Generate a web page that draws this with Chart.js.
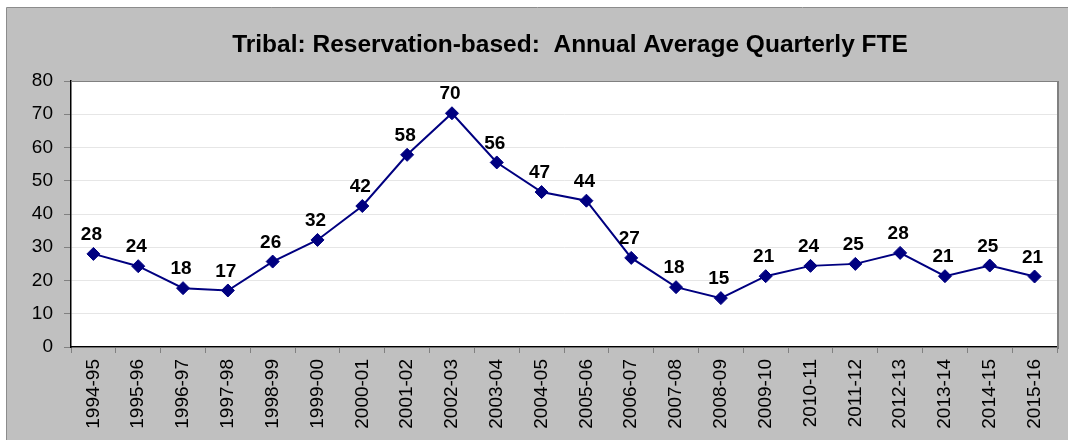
<!DOCTYPE html>
<html>
<head>
<meta charset="utf-8">
<script src="https://cdn.jsdelivr.net/npm/chart.js@4.4.1/dist/chart.umd.min.js"></script>
<style>
  html, body { margin: 0; padding: 0; background: #fff; }
  #wrap { width: 1068px; height: 440px; }
</style>
</head>
<body>
<div id="wrap"><canvas id="chart" width="1068" height="440"></canvas></div>
<script>
// Data
const CATEGORIES = [
  "1994-95", "1995-96", "1996-97", "1997-98", "1998-99", "1999-00",
  "2000-01", "2001-02", "2002-03", "2003-04", "2004-05", "2005-06",
  "2006-07", "2007-08", "2008-09", "2009-10", "2010-11", "2011-12",
  "2012-13", "2013-14", "2014-15", "2015-16",
];
const FTE_VALUES = [
  28.0, 24.3, 17.7, 17.0, 25.7, 32.2, 42.4, 57.8, 70.3, 55.5, 46.6,
  44.0, 26.8, 18.0, 14.7, 21.3, 24.4, 25.0, 28.3, 21.3, 24.5, 21.2,
];
const Y_MIN = 0;
const Y_MAX = 80;
const Y_STEP = 10;
const TITLE = "Tribal: Reservation-based:  Annual Average Quarterly FTE";

const FONT = "'Liberation Sans', Arial, sans-serif";
const NAVY = "#000080";

// Background, title and plot frame
const framePlugin = {
  id: "frame",
  beforeDraw(chart) {
    const { ctx, chartArea } = chart;
    ctx.save();
    ctx.fillStyle = "#ffffff";
    ctx.fillRect(0, 0, chart.width, chart.height);
    ctx.fillStyle = "#c0c0c0";
    ctx.fillRect(7, 8, chart.width - 7, chart.height - 8);
    ctx.strokeStyle = "#8c8c8c";
    ctx.lineWidth = 1;
    ctx.beginPath();
    ctx.moveTo(6.5, chart.height);
    ctx.lineTo(6.5, 7.5);
    ctx.lineTo(chart.width, 7.5);
    ctx.stroke();
    ctx.fillStyle = "#ffffff";
    ctx.fillRect(chartArea.left, chartArea.top, chartArea.width, chartArea.height);
    ctx.fillStyle = "#000000";
    ctx.font = "bold 24.5px " + FONT;
    ctx.textAlign = "center";
    ctx.textBaseline = "alphabetic";
    ctx.fillText(TITLE, 570, 52);
    ctx.restore();
  },
  afterDraw(chart) {
    const { ctx, chartArea } = chart;
    ctx.save();
    ctx.strokeStyle = "#808080";
    ctx.lineWidth = 1;
    ctx.beginPath();
    ctx.moveTo(chartArea.left, chartArea.top + 0.5);
    ctx.lineTo(chartArea.right, chartArea.top + 0.5);
    ctx.stroke();
    ctx.lineWidth = 2;
    ctx.beginPath();
    ctx.moveTo(chartArea.right + 1, chartArea.top);
    ctx.lineTo(chartArea.right + 1, chartArea.bottom + 2);
    ctx.stroke();
    ctx.restore();
  },
};

// Value labels above the points
const valueLabels = {
  id: "valueLabels",
  afterDatasetsDraw(chart) {
    const { ctx } = chart;
    const meta = chart.getDatasetMeta(0);
    ctx.save();
    ctx.fillStyle = "#000000";
    ctx.font = "bold 19px " + FONT;
    ctx.textAlign = "center";
    ctx.textBaseline = "middle";
    meta.data.forEach((pt, i) => {
      ctx.fillText(String(Math.round(FTE_VALUES[i])), pt.x - 2, pt.y - 19);
    });
    ctx.restore();
  },
};

new Chart(document.getElementById("chart"), {
  type: "line",
  data: {
    labels: CATEGORIES,
    datasets: [
      {
        data: FTE_VALUES,
        borderColor: NAVY,
        backgroundColor: NAVY,
        borderWidth: 2,
        pointStyle: "rectRot",
        pointRadius: 6.5,
        pointBorderWidth: 1,
        pointBackgroundColor: NAVY,
        pointBorderColor: NAVY,
        tension: 0,
        fill: false,
      },
    ],
  },
  options: {
    responsive: false,
    animation: false,
    layout: { padding: { top: 81, right: 11, left: 0, bottom: 0 } },
    plugins: {
      legend: { display: false },
      title: { display: false },
      tooltip: { enabled: false },
    },
    scales: {
      x: {
        offset: true,
        afterFit(scale) {
          scale.height = 93;
        },
        grid: {
          offset: true,
          drawOnChartArea: false,
          drawTicks: true,
          tickLength: 6,
          tickColor: "#808080",
        },
        border: { display: true, color: "#000000", width: 1.5 },
        ticks: {
          color: "#000000",
          font: { family: FONT, size: 19 },
          minRotation: 90,
          maxRotation: 90,
          padding: 6,
          autoSkip: false,
        },
      },
      y: {
        min: Y_MIN,
        max: Y_MAX,
        afterFit(scale) {
          scale.width = 71;
        },
        grid: {
          color: (c) => (c.tick && c.tick.value === Y_MAX ? "#808080" : "#e6e6e6"),
          lineWidth: 1,
          tickLength: 7,
          tickColor: "#808080",
        },
        border: { display: true, color: "#000000", width: 1.5 },
        ticks: {
          stepSize: Y_STEP,
          color: "#000000",
          font: { family: FONT, size: 19 },
          padding: 11,
        },
      },
    },
  },
  plugins: [framePlugin, valueLabels],
});
</script>
</body>
</html>
